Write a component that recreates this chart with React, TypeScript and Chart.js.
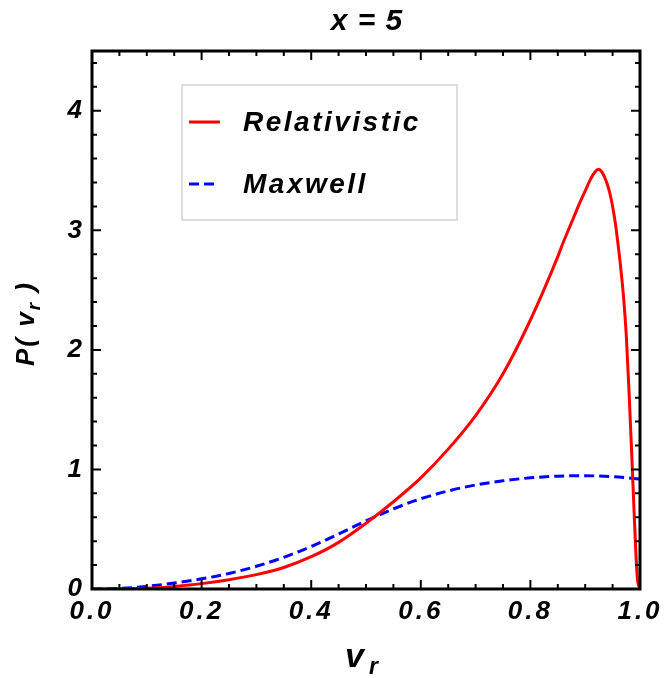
import React, { useEffect, useRef } from 'react';
import { Chart, registerables } from 'chart.js';

Chart.register(...registerables);

// ---- data ----
const relV = [0, 0.05, 0.1, 0.15, 0.2, 0.25, 0.3, 0.35, 0.4, 0.45, 0.5, 0.55, 0.6, 0.65, 0.7, 0.75, 0.8, 0.85, 0.86, 0.87, 0.88, 0.89, 0.9, 0.91, 0.915, 0.92, 0.925, 0.93, 0.935, 0.94, 0.945, 0.95, 0.955, 0.96, 0.965, 0.97, 0.975, 0.98, 0.985, 0.99, 0.995, 1.0];
const relP = [0, 0.001, 0.006, 0.022, 0.045, 0.078, 0.12, 0.18, 0.27, 0.39, 0.55, 0.73, 0.93, 1.17, 1.45, 1.8, 2.25, 2.78, 2.9, 3.01, 3.12, 3.23, 3.33, 3.43, 3.47, 3.5, 3.51, 3.49, 3.45, 3.39, 3.31, 3.2, 3.06, 2.88, 2.68, 2.44, 2.12, 1.65, 1.12, 0.56, 0.1, 0];

const maxV = [0, 0.05, 0.1, 0.15, 0.2, 0.25, 0.3, 0.35, 0.4, 0.45, 0.5, 0.55, 0.6, 0.65, 0.7, 0.75, 0.8, 0.85, 0.9, 0.95, 1.0];
const maxP = [0, 0.005, 0.022, 0.05, 0.085, 0.13, 0.19, 0.265, 0.355, 0.46, 0.57, 0.67, 0.755, 0.82, 0.87, 0.905, 0.93, 0.944, 0.947, 0.94, 0.92];

const xTickValues = [0, 0.2, 0.4, 0.6, 0.8, 1.0];
const xTickLabels = ['0.0', '0.2', '0.4', '0.6', '0.8', '1.0'];
const yTickValues = [0, 1, 2, 3, 4];
const yTickLabels = ['0', '1', '2', '3', '4'];

const seriesLabels = ['Relativistic', 'Maxwell'];
const titleText = 'x = 5';
const xTitleMain = 'v';
const xTitleSub = 'r';
const yTitleParts = ['P( ', 'v', 'r', ' )'];

const FONT = '"Liberation Sans", Arial, sans-serif';

const decorPlugin = {
  id: 'decor',
  beforeDraw(chart: any) {
    (chart.ctx as any).letterSpacing = '3px';
  },
  beforeDatasetsDraw(chart: any) {
    (chart.ctx as any).letterSpacing = '0px';
  },
  afterDraw(chart: any) {
    const ctx = chart.ctx as any;
    const { left, right, top, bottom } = chart.chartArea;
    const xs = chart.scales.x;
    const ys = chart.scales.y;
    ctx.save();
    ctx.letterSpacing = '0px';
    ctx.strokeStyle = '#000';
    ctx.setLineDash([]);
    // inward ticks
    ctx.lineWidth = 2;
    for (let i = 0; i <= 20; i++) {
      const px = xs.getPixelForValue(i * 0.05);
      const len = i % 4 === 0 ? 9 : 5;
      ctx.beginPath();
      ctx.moveTo(px, bottom);
      ctx.lineTo(px, bottom - len);
      ctx.moveTo(px, top);
      ctx.lineTo(px, top + len);
      ctx.stroke();
    }
    for (let j = 0; j <= 22; j++) {
      const py = ys.getPixelForValue(j * 0.2);
      const len = j % 5 === 0 ? 9 : 5;
      ctx.beginPath();
      ctx.moveTo(left, py);
      ctx.lineTo(left + len, py);
      ctx.moveTo(right, py);
      ctx.lineTo(right - len, py);
      ctx.stroke();
    }
    // frame
    ctx.lineWidth = 3;
    ctx.strokeRect(left, top, right - left, bottom - top);

    ctx.fillStyle = '#000';
    // title
    ctx.font = `italic bold 30px ${FONT}`;
    ctx.letterSpacing = '1px';
    ctx.textAlign = 'center';
    ctx.textBaseline = 'middle';
    ctx.fillText(titleText, (left + right) / 2 + 1, 22);

    // x title
    ctx.textAlign = 'left';
    ctx.textBaseline = 'alphabetic';
    ctx.letterSpacing = '0px';
    ctx.font = `italic bold 34px ${FONT}`;
    ctx.fillText(xTitleMain, 345, 667);
    ctx.font = `italic bold 23px ${FONT}`;
    ctx.fillText(xTitleSub, 369, 674);

    // y title (rotated)
    ctx.save();
    ctx.translate(34, 366);
    ctx.rotate(-Math.PI / 2);
    ctx.letterSpacing = '2px';
    let cx = 0;
    ctx.font = `italic bold 26px ${FONT}`;
    ctx.fillText(yTitleParts[0], cx, 0);
    cx += ctx.measureText(yTitleParts[0]).width;
    ctx.fillText(yTitleParts[1], cx, 0);
    cx += ctx.measureText(yTitleParts[1]).width;
    ctx.font = `italic bold 19px ${FONT}`;
    ctx.fillText(yTitleParts[2], cx, 6);
    cx += ctx.measureText(yTitleParts[2]).width;
    ctx.font = `italic bold 26px ${FONT}`;
    ctx.fillText(yTitleParts[3], cx, 0);
    ctx.restore();

    // legend
    ctx.letterSpacing = '0px';
    ctx.fillStyle = '#fff';
    ctx.fillRect(182, 85, 275, 135);
    ctx.strokeStyle = '#d4d4d4';
    ctx.lineWidth = 1.5;
    ctx.strokeRect(182, 85, 275, 135);
    const rows = [122, 184];
    chart.data.datasets.forEach((ds: any, k: number) => {
      const y = rows[k];
      ctx.strokeStyle = ds.borderColor;
      ctx.lineWidth = 3;
      ctx.setLineDash(ds.borderDash || []);
      ctx.beginPath();
      ctx.moveTo(189, y);
      ctx.lineTo(k === 0 ? 220 : 218, y);
      ctx.stroke();
      ctx.setLineDash([]);
      ctx.fillStyle = '#000';
      ctx.font = `italic bold 28px ${FONT}`;
      ctx.letterSpacing = '2.5px';
      ctx.textAlign = 'left';
      ctx.textBaseline = 'middle';
      ctx.fillText(ds.label, 243, y + 1);
    });
    ctx.restore();
  },
};

export default function App() {
  const ref = useRef<HTMLCanvasElement>(null);
  useEffect(() => {
    if (!ref.current) return;
    const chart = new Chart(ref.current, {
      type: 'line',
      data: {
        datasets: [
          {
            label: seriesLabels[0],
            data: relV.map((v, i) => ({ x: v, y: relP[i] })),
            borderColor: '#ff0000',
            borderWidth: 3,
            pointRadius: 0,
            fill: false,
            cubicInterpolationMode: 'monotone',
          },
          {
            label: seriesLabels[1],
            data: maxV.map((v, i) => ({ x: v, y: maxP[i] })),
            borderColor: '#0000ff',
            borderWidth: 3,
            borderDash: [10, 5],
            pointRadius: 0,
            fill: false,
            cubicInterpolationMode: 'monotone',
          },
        ],
      },
      options: {
        animation: false,
        responsive: true,
        maintainAspectRatio: false,
        layout: { padding: { top: 51, right: 26, left: 0, bottom: 0 } },
        plugins: { legend: { display: false }, tooltip: { enabled: false } },
        scales: {
          x: {
            type: 'linear',
            min: 0,
            max: 1,
            grid: { display: false, drawTicks: false },
            border: { display: false },
            afterFit: (s: any) => { s.height = 89; },
            afterBuildTicks: (s: any) => { s.ticks = xTickValues.map((v) => ({ value: v })); },
            ticks: {
              padding: 7,
              color: '#000',
              maxRotation: 0,
              autoSkip: false,
              font: { family: FONT, size: 26, weight: 'bold', style: 'italic' },
              callback: (_v: any, i: number) => xTickLabels[i],
            },
          },
          y: {
            type: 'linear',
            min: 0,
            max: 4.5,
            grid: { display: false, drawTicks: false },
            border: { display: false },
            afterFit: (s: any) => { s.width = 92; },
            afterBuildTicks: (s: any) => { s.ticks = yTickValues.map((v) => ({ value: v })); },
            ticks: {
              padding: 7,
              color: '#000',
              autoSkip: false,
              font: { family: FONT, size: 26, weight: 'bold', style: 'italic' },
              callback: (_v: any, i: number) => yTickLabels[i],
            },
          },
        },
      },
      plugins: [decorPlugin],
    } as any);
    return () => chart.destroy();
  }, []);
  return (
    <div style={{ position: 'fixed', left: 0, top: 0, width: 666, height: 678, background: '#fff' }}>
      <canvas ref={ref} />
    </div>
  );
}
